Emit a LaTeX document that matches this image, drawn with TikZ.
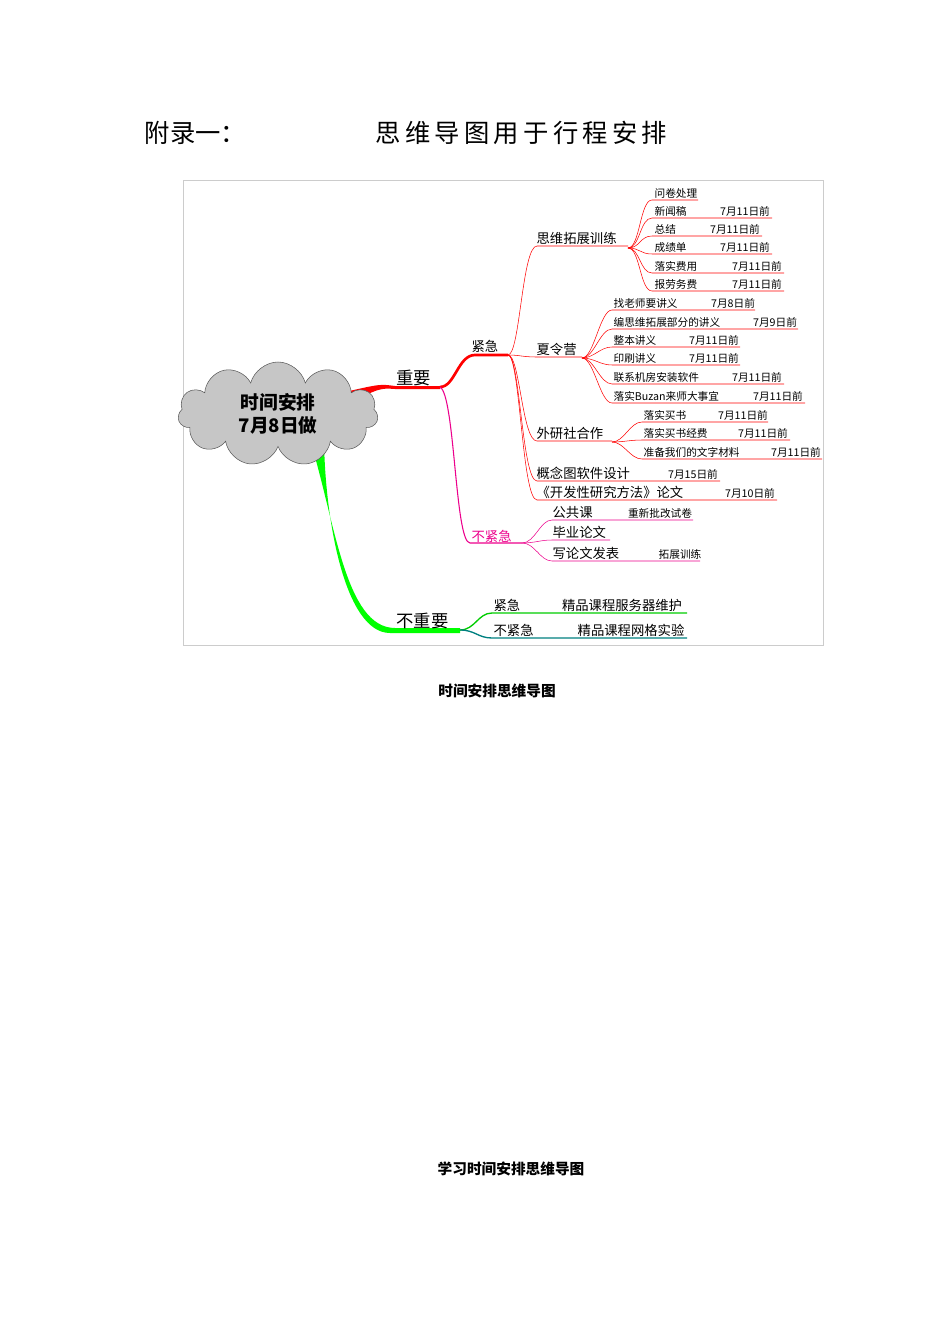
\documentclass[tikz,border=0pt]{standalone}
\usepackage{fontspec}
\setmainfont{Liberation Serif}
\newfontfamily\cjk{Noto Sans CJK SC}
\usetikzlibrary{shapes.symbols}
\begin{document}
\begin{tikzpicture}[x=0.75pt,y=-0.75pt,
  lf/.style={anchor=south west,inner sep=1pt,font=\cjk\fontsize{8}{9}\selectfont},
  dt/.style={anchor=south,inner sep=1pt,font=\cjk\fontsize{8}{9}\selectfont},
  mid/.style={anchor=south west,inner sep=1pt,font=\cjk\fontsize{10}{12}\selectfont},
  big/.style={anchor=south west,inner sep=1pt,font=\cjk\fontsize{13}{15}\selectfont}]
\useasboundingbox (0,0) rectangle (950,1344);
\node[anchor=west,font=\cjk\fontsize{19}{22}\selectfont] (t1) at (140,133) {附录一：};
\node[anchor=west,font=\cjk\fontsize{19}{22}\selectfont] (t2) at (371,133) {思\,维\,导\,图\,用\,于\,行\,程\,安\,排};
\draw[gray!40] (183,180) rectangle (823,645);
\node[font=\cjk\bfseries\fontsize{11}{13}\selectfont] (c1) at (497,691) {时间安排思维导图};
\node[font=\cjk\bfseries\fontsize{11}{13}\selectfont] (c2) at (511,1169) {学习时间安排思维导图};
% main branches
\coordinate (h1) at (440,387);
\coordinate (hu) at (508,355);
\coordinate (hn) at (522,543);
\coordinate (hb) at (460,630);
\fill[red] (345,392) .. controls (380,384) .. (395,386) -- (440,386) -- (440,389) -- (395,389) .. controls (380,388) .. (347,404) -- cycle;
\draw[red,line width=2pt] (440,387) .. controls (455,387) and (458,355) .. (475,355) -- (hu);
\draw[magenta,line width=0.8pt] (h1) .. controls (455,395) and (455,543) .. (470,543) -- (hn);
\fill[green] (310,440) .. controls (335,520) and (345,628) .. (395,628) -- (460,628) -- (460,633) -- (390,633) .. controls (345,633) and (325,520) .. (324,440) -- cycle;
\node[font=\cjk\bfseries\fontsize{14}{17}\selectfont,align=center,cloud,cloud puffs=11,aspect=1.9,draw=gray!70!black,fill=gray!45,inner sep=0pt,minimum width=150,minimum height=78] (root) at (278,414) {时间安排\\7月8日做};
\node[big] (zy) at (395,387) {重要};
\node[mid] (jj) at (470,354) {紧急};
\node[mid,text=magenta] (bj) at (470,544) {不紧急};
\node[big] (bz) at (395,630) {不重要};
% 紧急 children
\foreach \txt/\y/\e/\hx/\hy in {思维拓展训练/246/628/628/248, 夏令营/357/582/582/358, 外研社合作/441/612/612/442, 概念图软件设计/481/720/720/481, 《开发性研究方法》论文/500/777/777/500}{
  \draw[red] (hu) .. controls (520,355) and (522,\y) .. (537,\y) -- (\e,\y);
  \node[mid] at (535,\y) {\txt};
}
\node[dt] (d1) at (693,481) {7月15日前};
\node[dt] (d2) at (750,500) {7月10日前};
% leaves
\foreach \hx/\hy/\y/\t/\d/\dx/\e in {
 628/248/200/问卷处理//0/698,
 628/248/218/新闻稿/7月11日前/745/772,
 628/248/236/总结/7月11日前/735/762,
 628/248/254/成绩单/7月11日前/745/772,
 628/248/273/落实费用/7月11日前/757/784,
 628/248/291/报劳务费/7月11日前/757/784}{
  \draw[red] (\hx,\hy) .. controls (\hx+12,\hy) and (640,\y) .. (652,\y) -- (\e,\y);
  \node[lf] at (653,\y) {\t};
  \node[dt] at (\dx,\y) {\d};
}
\foreach \hx/\hy/\y/\t/\d/\dx/\e in {
 582/358/310/找老师要讲义/7月8日前/733/755,
 582/358/329/编思维拓展部分的讲义/7月9日前/775/798,
 582/358/347/整本讲义/7月11日前/714/740,
 582/358/365/印刷讲义/7月11日前/714/740,
 582/358/384/联系机房安装软件/7月11日前/757/784,
 582/358/403/落实Buzan来师大事宜/7月11日前/778/805,
 612/442/422/落实买书/7月11日前/743/768,
 612/442/440/落实买书经费/7月11日前/763/790,
 612/442/459/准备我们的文字材料/7月11日前/796/822}{
  \draw[red] (\hx,\hy) .. controls (\hx+12,\hy) and (\hx+18,\y) .. (\hx+30,\y) -- (\e,\y);
  \node[lf] at (\hx+30,\y) {\t};
  \node[dt] at (\dx,\y) {\d};
}
% 不紧急
\foreach \y/\t/\d/\dx/\e in {520/公共课/重新批改试卷/660/693, 540/毕业论文//0/610, 561/写论文发表/拓展训练/680/700}{
  \draw[magenta] (hn) .. controls (535,543) and (540,\y) .. (552,\y) -- (\e,\y);
  \node[mid] at (551,\y) {\t};
  \node[dt] at (\dx,\y) {\d};
}
% 不重要
\draw[green!80!black,line width=1pt] (hb) .. controls (475,630) and (478,613) .. (492,613) -- (687,613);
\draw[teal,line width=1pt] (hb) .. controls (475,630) and (478,638) .. (492,638) -- (687,638);
\node[mid] (b1) at (492,613) {紧急};
\node[mid] (b2) at (492,638) {不紧急};
\node[mid,anchor=south] (b3) at (622,613) {精品课程服务器维护};
\node[mid,anchor=south] (b4) at (631,638) {精品课程网格实验};
\end{tikzpicture}
\end{document}
